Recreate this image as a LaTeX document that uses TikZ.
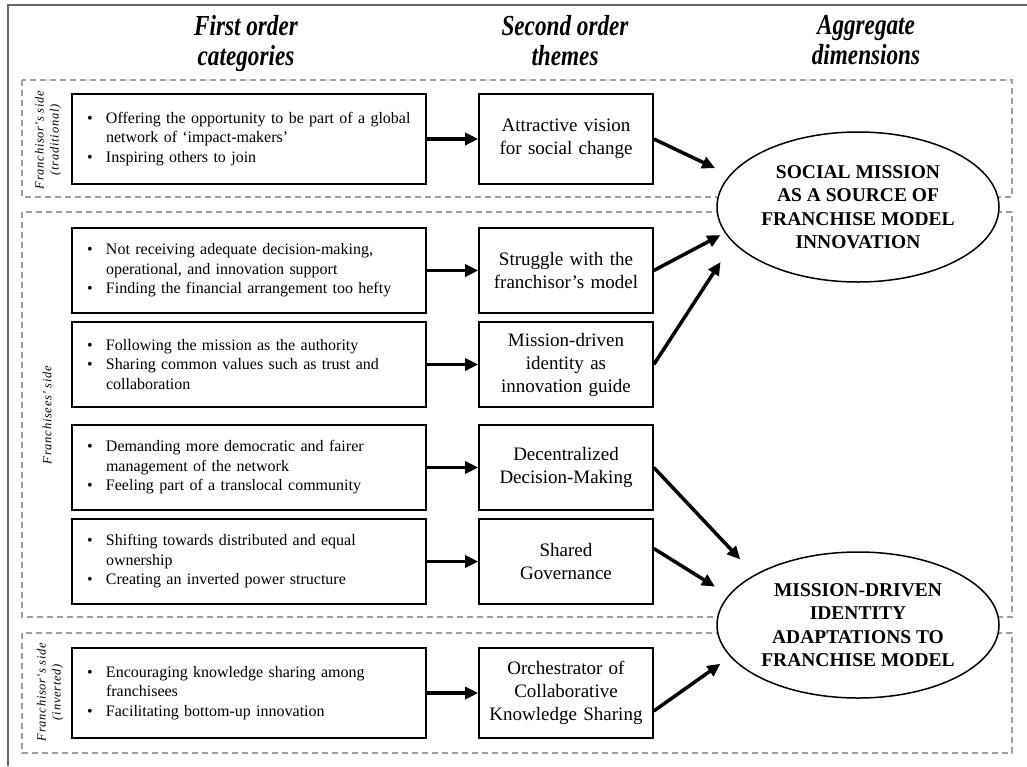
\documentclass[tikz,border=0pt]{standalone}
\usepackage{fontspec}
\setmainfont{Liberation Serif}
\newfontfamily\headfont[FakeStretch=0.8]{Liberation Serif}
\newfontfamily\sidefont[LetterSpace=6]{Liberation Serif}
\usetikzlibrary{arrows.meta,shapes.geometric}
\definecolor{dashgray}{RGB}{160,160,160}
\definecolor{framegray}{RGB}{105,105,105}
\newcommand{\bul}{\hspace*{3pt}\makebox[19pt][l]{\textbullet}}
\newcommand{\ind}{\hspace*{22pt}}

\begin{document}
\begin{tikzpicture}[x=1pt,y=-1pt,
	catbox/.style={draw,line width=1.6pt,minimum width=354pt,text width=330pt,
		inner xsep=12pt,minimum height=85pt,align=left,
		font=\fontsize{16}{19.5}\selectfont},
	theme/.style={draw,line width=1.6pt,minimum width=174pt,text width=164pt,
		inner xsep=5pt,minimum height=85pt,align=center,
		font=\fontsize{19}{23}\selectfont},
	dim/.style={ellipse,draw,line width=1.5pt,fill=white,minimum width=282pt,
		minimum height=150pt,inner sep=0pt,align=center,
		font=\fontsize{19.5}{23.5}\selectfont\bfseries},
	head/.style={anchor=north,align=center,font=\headfont\fontsize{29}{30}\selectfont\bfseries\itshape},
	side/.style={rotate=90,align=center,font=\sidefont\fontsize{12.5}{15}\selectfont\itshape},
	group/.style={draw=dashgray,line width=1.1pt,dash pattern=on 6pt off 4pt},
	link/.style={line width=3.5pt,-{Triangle[length=13pt,width=12pt]}}]
	\useasboundingbox (0,0) rectangle (1027,766);
	\draw[framegray,line width=1.5pt] (8,766) -- (8,5) -- (1027,5);

	% column headers
	\node[head] (h1) at (246,12) {First order\\categories};
	\node[head] (h2) at (565,12) {Second order\\themes};
	\node[head] (h3) at (866,12) {Aggregate\\dimensions};

	% groups
	\draw[group] (22,80) rectangle (1012,197);
	\draw[group] (22,212) rectangle (1012,617);
	\draw[group] (22,633) rectangle (1012,753);
	\node[side] (g1) at (48,140) {Franchisor's side\\(traditional)};
	\node[side] (g2) at (47,415) {Franchisees' side};
	\node[side] (g3) at (50,692) {Franchisor's side\\(inverted)};

	% aggregate dimensions
	\node[dim] (e1) at (858,207) {SOCIAL MISSION\\AS A SOURCE OF\\FRANCHISE MODEL\\INNOVATION};
	\node[dim,minimum height=146pt] (e2) at (858,625) {MISSION-DRIVEN\\IDENTITY\\ADAPTATIONS TO\\FRANCHISE MODEL};

	% first order categories
	\node[catbox,minimum height=90pt] (c1) at (249,139) {\bul Offering the opportunity to be part of a global\\
		\ind network of `impact-makers'\\ \bul Inspiring others to join};
	\node[catbox] (c2) at (249,270.5) {\bul Not receiving adequate decision-making,\\
		\ind operational, and innovation support\\ \bul Finding the financial arrangement too hefty};
	\node[catbox] (c3) at (249,364.5) {\bul Following the mission as the authority\\
		\bul Sharing common values such as trust and\\ \ind collaboration};
	\node[catbox] (c4) at (249,467.5) {\bul Demanding more democratic and fairer\\
		\ind management of the network\\ \bul Feeling part of a translocal community};
	\node[catbox] (c5) at (249,561.5) {\bul Shifting towards distributed and equal\\
		\ind ownership\\ \bul Creating an inverted power structure};
	\node[catbox,minimum height=90pt] (c6) at (249,693) {\bul Encouraging knowledge sharing among\\
		\ind franchisees\\ \bul Facilitating bottom-up innovation};

	% second order themes
	\node[theme,minimum height=90pt] (s1) at (566,139) {Attractive vision\\for social change};
	\node[theme] (s2) at (566,270.5) {Struggle with the\\franchisor's model};
	\node[theme] (s3) at (566,364.5) {Mission-driven\\identity as\\innovation guide};
	\node[theme] (s4) at (566,467.5) {Decentralized\\Decision-Making};
	\node[theme] (s5) at (566,561.5) {Shared\\Governance};
	\node[theme,minimum height=90pt] (s6) at (566,693) {Orchestrator of\\Collaborative\\Knowledge Sharing};

	\foreach \i in {1,...,6}
		\draw[link] (c\i.east) -- (s\i.west);

	\draw[link,shorten >=16pt] (s1.east) -- (e1.166);
	\draw[link,shorten >=5pt] (s2.east) -- (e1.191);
	\draw[link,shorten >=23pt] (s3.east) -- (e1.196);
	\draw[link,shorten >=21pt] (s4.east) -- (e2.154.5);
	\draw[link,shorten >=16pt] ([yshift=13pt]s5.east) -- (e2.167);
	\draw[link,shorten >=12pt] ([yshift=-18pt]s6.east) -- (e2.194);
\end{tikzpicture}
\end{document}
